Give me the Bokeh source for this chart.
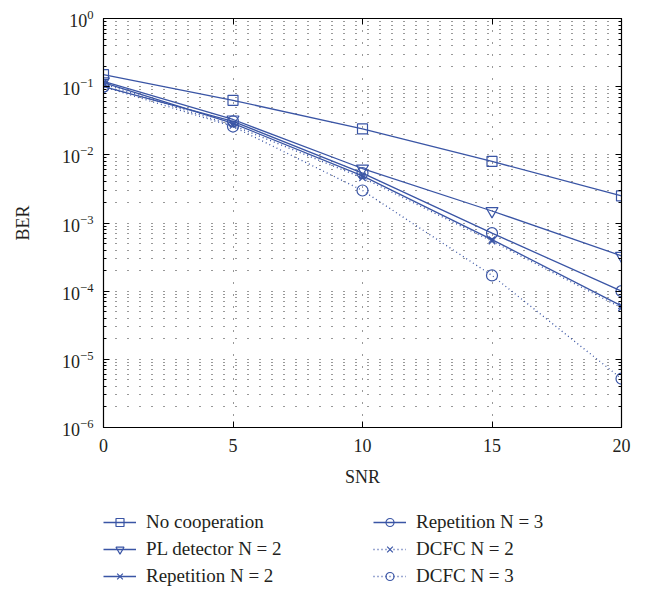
from bokeh.plotting import figure
from bokeh.layouts import column
from bokeh.models import (LogAxis, LinearAxis, FixedTicker, Legend, LegendItem,
                          Range1d)
from bokeh.embed import file_html
from bokeh.resources import INLINE

# ---- data ----
snr = [0, 5, 10, 15, 20]
ber_no_coop = [0.15, 0.063, 0.024, 0.0080, 0.0025]
ber_pl_n2 = [0.12, 0.033, 0.0063, 0.0015, 0.00033]
ber_rep_n2 = [0.115, 0.029, 0.0049, 0.00057, 0.000061]
ber_rep_n3 = [0.10, 0.031, 0.0054, 0.00071, 0.00010]
ber_dcfc_n2 = [0.11, 0.027, 0.0046, 0.00054, 0.000057]
ber_dcfc_n3 = [0.10, 0.026, 0.0030, 0.00017, 0.0000052]

x_ticks = [0, 5, 10, 15, 20]
y_decades = list(range(-6, 1))

BLUE = "#3a55a5"
FONT = "Liberation Serif"
TXT = "#231f20"
NAN = float("nan")

p = figure(width=656, height=500, output_backend="svg", toolbar_location=None,
           y_axis_type="log", x_range=Range1d(0, 20), y_range=Range1d(1e-6, 1),
           min_border_left=103, min_border_right=35, min_border_top=18,
           min_border_bottom=73)
p.outline_line_color = "black"
p.outline_line_width = 1.2
p.background_fill_color = "white"

yt = FixedTicker(ticks=[10.0 ** k for k in y_decades],
                 minor_ticks=[m * 10.0 ** k for k in y_decades[:-1] for m in range(2, 10)])
xt = FixedTicker(ticks=x_ticks, minor_ticks=[])

p.xaxis.ticker = xt
p.yaxis.ticker = yt

for ax in [p.xaxis[0], p.yaxis[0]]:
    ax.major_tick_in = 6
    ax.major_tick_out = 0
    ax.minor_tick_in = 3
    ax.minor_tick_out = 0
    ax.axis_line_color = "black"
    ax.major_tick_line_color = "black"
    ax.minor_tick_line_color = "black"
    ax.major_label_text_font = FONT
    ax.major_label_text_font_size = "18px"
    ax.major_label_text_color = TXT
    ax.axis_label_text_font = FONT
    ax.axis_label_text_font_size = "18px"
    ax.axis_label_text_font_style = "normal"
    ax.axis_label_text_color = TXT

p.xaxis.axis_label = "SNR"
p.yaxis.axis_label = "BER"
p.xaxis.major_label_standoff = 11
p.xaxis.axis_label_standoff = 12
p.yaxis.major_label_standoff = 10
p.yaxis.axis_label_standoff = 26

# right / top box axes (ticks only)
ra = LogAxis(ticker=yt, major_label_text_color=None, major_tick_in=6,
             major_tick_out=0, minor_tick_in=3, minor_tick_out=0)
ta = LinearAxis(ticker=xt, major_label_text_color=None, major_tick_in=6,
                major_tick_out=0, minor_tick_in=0, minor_tick_out=0)
p.add_layout(ra, "right")
p.add_layout(ta, "above")

p.xgrid.grid_line_color = "#333333"
p.xgrid.grid_line_dash = "1 11"
p.ygrid.grid_line_color = "#333333"
p.ygrid.grid_line_dash = "1 11"
p.ygrid.minor_grid_line_color = "#333333"
p.ygrid.minor_grid_line_dash = "1 11"

series = [
    ("No cooperation", ber_no_coop, "square", "solid", 10),
    ("PL detector N = 2", ber_pl_n2, "inverted_triangle", "solid", 12),
    ("Repetition N = 2", ber_rep_n2, "x", "solid", 9),
    ("Repetition N = 3", ber_rep_n3, "circle", "solid", 11),
    ("DCFC N = 2", ber_dcfc_n2, "x", "1 3", 9),
    ("DCFC N = 3", ber_dcfc_n3, "circle", "1 3", 11),
]

# legend figure below the plot
pl = figure(width=656, height=89, output_backend="svg", toolbar_location=None,
            x_range=Range1d(0, 1), y_range=Range1d(0, 1),
            min_border_left=0, min_border_right=0, min_border_top=0,
            min_border_bottom=0)
pl.axis.visible = False
pl.grid.visible = False
pl.outline_line_color = None

items = []
for label, ys, marker, dash, size in series:
    p.line(snr, ys, line_color=BLUE, line_width=1.3, line_dash=dash)
    p.scatter(snr, ys, marker=marker, size=size, line_color=BLUE,
              fill_color=None, line_width=1.2)
    l2 = pl.line([NAN], [NAN], line_color=BLUE, line_width=1.3, line_dash=dash)
    s2 = pl.scatter([NAN], [NAN], marker=marker, size=size * 0.85,
                    line_color=BLUE, fill_color=None, line_width=1.2)
    items.append(LegendItem(label=label, renderers=[l2, s2]))

legend = Legend(items=items, ncols=2, location=(0, 2),
                border_line_color=None, background_fill_alpha=0,
                label_text_font=FONT, label_text_font_size="19px",
                label_text_color=TXT, glyph_width=33, glyph_height=20,
                label_height=20, spacing=5, label_standoff=10,
                label_width=222, padding=0, margin=0)
pl.add_layout(legend, "center")

open("out.html", "w").write(file_html(column(p, pl, spacing=0), INLINE))
